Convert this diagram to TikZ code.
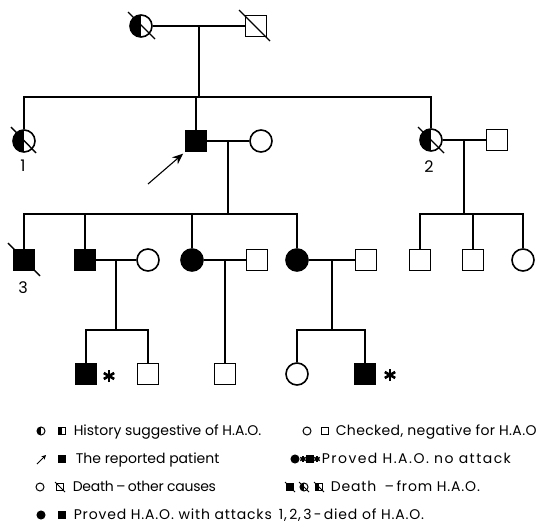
\documentclass[tikz,border=0pt]{standalone}
\usepackage{fontspec}
\setmainfont{Poppins}
\usetikzlibrary{calc,arrows.meta}
\begin{document}
\begin{tikzpicture}[x=1pt,y=-1pt,line width=1.6pt,
  sq/.style={draw,rectangle,minimum size=21pt,inner sep=0pt,line width=1.6pt},
  ci/.style={draw,circle,minimum size=22pt,inner sep=0pt,line width=1.6pt},
  aff/.style={fill=black},
  halfl/.style={path picture={\fill[black] (path picture bounding box.south west) rectangle (path picture bounding box.north);}},
  lsq/.style={draw,rectangle,minimum size=6.5pt,inner sep=0pt,line width=1pt},
  lci/.style={draw,circle,minimum size=8pt,inner sep=0pt,line width=1pt},
  slash/.style={line width=1.4pt},
  lslash/.style={line width=0.9pt},
  astk/.style={minimum size=13pt,inner sep=0pt,path picture={\foreach \a in {90,30,150}{\draw[line width=2.6pt] (path picture bounding box.center) ++(\a:-6pt) -- ++(\a:12pt);}}},
  lastk/.style={minimum size=7pt,inner sep=0pt,path picture={\foreach \a in {90,30,150}{\draw[line width=1.5pt] (path picture bounding box.center) ++(\a:-3.2pt) -- ++(\a:6.4pt);}}},
  lab/.style={font=\fontsize{16}{18}\selectfont,inner sep=0pt},
  lt/.style={font=\fontsize{14}{16}\selectfont,inner sep=0pt,anchor=base west}]
\useasboundingbox (0,0) rectangle (543,532);

% Generation I
\node[ci,halfl] (I1) at (141,26) {};
\node[sq] (I2) at (256,26) {};
\draw[slash] ($(I1)+(-13,-14)$) -- ($(I1)+(14,13)$);
\draw[slash] ($(I2)+(-17,-16)$) -- ($(I2)+(14,15)$);

% Generation II
\node[ci,halfl] (II1) at (24,141) {};
\node[sq,aff] (P) at (196,141) {};
\node[ci] (W) at (261,141) {};
\node[ci,halfl] (II2) at (431,140) {};
\node[sq] (H2) at (497,140) {};
\draw[slash] ($(II1)+(-13,-14)$) -- ($(II1)+(12,12)$);
\draw[slash] ($(II2)+(-13,-13)$) -- ($(II2)+(13,13)$);
\node[lab] (n1) at (23,166) {1};
\node[lab] (n2) at (429,167) {2};

% Generation III
\node[sq,aff] (III1) at (24,260) {};
\node[sq,aff] (III2) at (85,260) {};
\node[ci] (W2) at (148,260) {};
\node[ci,aff] (III3) at (192,260) {};
\node[sq] (H3) at (257,260) {};
\node[ci,aff] (III4) at (297,260) {};
\node[sq] (H4) at (366,260) {};
\node[sq] (C1) at (420,260) {};
\node[sq] (C2) at (473,260) {};
\node[ci] (C3) at (523,260) {};
\draw[slash] ($(III1)+(-16,-17)$) -- ($(III1)+(16,16)$);
\node[lab] (n3) at (23,288) {3};

% Generation IV
\node[sq,aff] (IV1) at (86,374) {};
\node[sq] (IV2) at (148,374) {};
\node[sq] (IV3) at (225,374) {};
\node[ci] (IV4) at (297,374) {};
\node[sq,aff] (IV5) at (365,374) {};
\node[astk] (st1) at (109,376) {};
\node[astk] (st2) at (390,375) {};

% level coordinates
\coordinate (s1) at (0,97);
\coordinate (s2) at (0,214);
\coordinate (s3) at (0,330);

% Gen I mating and sibship
\draw (I1.east) -- (I2.west);
\coordinate (m1) at ($(I1.east)!0.5!(I2.west)$);
\draw (m1) -- (m1 |- s1);
\draw (II1.north) -- (II1.north |- s1) -- (II2.north |- s1) -- (II2.north);
\draw (P.north) -- (P.north |- s1);

% Proband mating
\draw (P.east) -- (W.west);
\coordinate (m2) at ($(P.east)!0.5!(W.west)$);
\draw (m2) -- (m2 |- s2);
\draw (III1.north) -- (III1.north |- s2) -- (III4.north |- s2) -- (III4.north);
\draw (III2.north) -- (III2.north |- s2);
\draw (III3.north) -- (III3.north |- s2);

% II-2 mating
\draw (II2.east) -- (H2.west);
\coordinate (m3) at ($(II2.east)!0.5!(H2.west)$);
\draw (m3) -- (m3 |- s2);
\draw (C1.north) -- (C1.north |- s2) -- (C3.north |- s2) -- (C3.north);
\draw (C2.north) -- (C2.north |- s2);

% III-2 mating
\draw (III2.east) -- (W2.west);
\coordinate (m4) at ($(III2.east)!0.5!(W2.west)$);
\draw (m4) -- (m4 |- s3);
\draw (IV1.north) -- (IV1.north |- s3) -- (IV2.north |- s3) -- (IV2.north);

% III-3 mating
\draw (III3.east) -- (H3.west);
\coordinate (m5) at ($(III3.east)!0.5!(H3.west)$);
\draw (m5) -- (m5 |- IV3.north);

% III-4 mating
\draw (III4.east) -- (H4.west);
\coordinate (m6) at ($(III4.east)!0.5!(H4.west)$);
\draw (m6) -- (m6 |- s3);
\draw (IV4.north) -- (IV4.north |- s3) -- (IV5.north |- s3) -- (IV5.north);

% proband arrow
\coordinate (pa) at (148,184);
\draw[line width=1.1pt,-{Stealth[length=11pt,width=9pt]},shorten >=2pt] (pa) -- (P.south west);

% Legend
\node[lci,halfl] (L1a) at (41,431) {};
\node[lsq,halfl] (L1b) at (62,431) {};
\node[lt] (T1) at (73,435) {History suggestive of H.A.O.};
\node[lci] (L1c) at (307,431) {};
\node[lsq] (L1d) at (325,431) {};
\node[lt] (T2) at (335,435) {\addfontfeature{LetterSpace=2.5}Checked, negative for H.A.O};

\coordinate (la1) at (37,464);
\coordinate (la2) at (46,455);
\draw[line width=1pt,-{Stealth[length=4.5pt,width=4.5pt]}] (la1) -- (la2);
\node[lsq,aff] (L2b) at (62,459) {};
\node[lt] (T3) at (75,463) {The reported patient};
\node[lci,aff] (L2c) at (295,459) {};
\node[lastk] (L2d) at (303,459) {};
\node[lsq,aff] (L2e) at (310,459) {};
\node[lastk] (L2f) at (317,459) {};
\node[lt] (T4) at (321,463) {\addfontfeature{LetterSpace=10.5}Proved H.A.O. no attack};

\node[lci] (L3a) at (40,487) {};
\node[lsq] (L3b) at (60,487) {};
\draw[lslash] ($(L3b)+(-5,-5)$) -- ($(L3b)+(5,5)$);
\node[lt] (T5) at (72,491) {\addfontfeature{LetterSpace=-2}Death\,–\,other causes};
\node[lsq,aff] (L3c) at (290,487) {};
\draw[lslash] ($(L3c)+(-5,-5)$) -- ($(L3c)+(5,5)$);
\node[lci,halfl] (L3d) at (304,487) {};
\draw[lslash] ($(L3d)+(-5,-5)$) -- ($(L3d)+(5,5)$);
\node[lsq,halfl] (L3e) at (319,487) {};
\draw[lslash] ($(L3e)+(-5,-5)$) -- ($(L3e)+(5,5)$);
\node[lt] (T6) at (330,491) {\addfontfeature{LetterSpace=6}Death\; –\,from H.A.O.};

\node[lci,aff] (L4a) at (41,515) {};
\node[lsq,aff] (L4b) at (62,515) {};
\node[lt] (T7) at (73,519) {\addfontfeature{LetterSpace=6}Proved H.A.O. with attacks\enspace 1,\,2,\,3\,-\,died of H.A.O.};
\end{tikzpicture}
\end{document}
